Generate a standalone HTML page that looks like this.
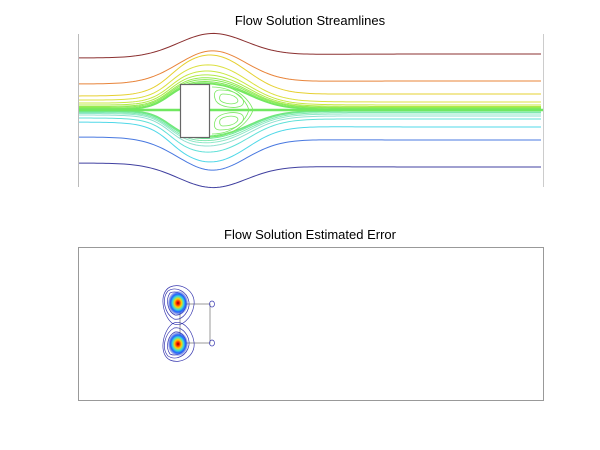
<!DOCTYPE html>
<html><head><meta charset="utf-8"><style>
body{margin:0;background:#fff;width:600px;height:450px;overflow:hidden;font-family:"Liberation Sans",Arial,sans-serif}
svg{position:absolute;left:0;top:0}
</style></head><body>
<svg id="s" width="600" height="450" viewBox="0 0 600 450" xmlns="http://www.w3.org/2000/svg">
<defs>
<radialGradient id="hot" cx="50%" cy="50%" r="50%">
<stop offset="0" stop-color="#800000"/><stop offset="0.15" stop-color="#ff2000"/><stop offset="0.35" stop-color="#ffd000"/><stop offset="0.55" stop-color="#40e0d0"/><stop offset="0.75" stop-color="#2060ff"/><stop offset="1" stop-color="#3040c0" stop-opacity="0.2"/>
</radialGradient>
</defs>
<text x="310" y="25" font-size="13" text-anchor="middle" fill="#000">Flow Solution Streamlines</text>
<text x="310" y="239" font-size="13" text-anchor="middle" fill="#000">Flow Solution Estimated Error</text>
<line x1="78.5" y1="34" x2="78.5" y2="187" stroke="#bbb"/>
<line x1="543.5" y1="34" x2="543.5" y2="187" stroke="#ccc"/>
<g id="lines" fill="none" stroke-width="1"></g>
<g fill="none" stroke="#7ae860" stroke-width="0.8">
<path d="M209,84 C235,84 250,100 253,110 C250,120 235,137 209,137"/>
<path d="M212,87 C234,87 246,100 249,110 C246,120 234,134 212,134"/>
<path d="M220,90 C240,90 248,102 241,106 C234,109 220,107 216,101 C213,95 214,90 220,90Z"/>
<path d="M223,94 C236,94 241,101 236,103 C231,105 222,103 220,100 C219,97 220,94 223,94Z"/>
<path d="M220,130 C240,130 248,118 241,114 C234,111 220,113 216,119 C213,125 214,130 220,130Z"/>
<path d="M223,126 C236,126 241,119 236,117 C231,115 222,117 220,120 C219,123 220,126 223,126Z"/>
</g>
<rect x="180.5" y="84.5" width="29" height="53" fill="#fff" stroke="#666" stroke-width="1.2"/>
<rect x="78.5" y="247.5" width="465" height="153" fill="#fff" stroke="#999"/>
<rect x="180" y="304" width="30" height="39" fill="none" stroke="#999" stroke-width="1"/>
<g fill="none" stroke="#3a3ab0" stroke-width="0.7">
<path d="M170,287 C158,293 163,316 172,323 C181,329 192,318 194,305 C196,291 181,282 170,287Z"/>
<path d="M168,291 C161,299 165,314 174,319 C183,321 190,310 189,302 C187,291 176,286 168,291Z"/>
<path d="M170,293 C165,300 168,312 175,315 C182,316 187,308 186,302 C184,294 176,290 170,293Z"/>
<path d="M170,360 C158,354 163,331 172,324 C181,318 192,329 194,342 C196,356 181,365 170,360Z"/>
<path d="M168,356 C161,348 165,333 174,328 C183,326 190,337 189,345 C187,356 176,361 168,356Z"/>
<path d="M170,354 C165,347 168,335 175,332 C182,331 187,339 186,345 C184,353 176,357 170,354Z"/>
<ellipse cx="212" cy="304" rx="2.5" ry="3"/><ellipse cx="212" cy="343" rx="2.5" ry="3"/>
</g>
<ellipse cx="178" cy="303" rx="10" ry="12" fill="url(#hot)"/>
<ellipse cx="178" cy="344" rx="10" ry="12" fill="url(#hot)"/>
</svg>
<script>
var ds=[[-52,-56,"#8b3030"],[-26,-29,"#e8843a"],[-14,-16,"#e6d030"],[-10,-8,"#dce040"],[-7,-5,"#c8e840"],[-5,-3.5,"#b0ea48"],[-3.5,-2.5,"#98ec50"],[-2.5,-1.8,"#88ea58"],[-1.5,-1,"#80e858"],[-0.8,-0.5,"#78e860"],[-0.3,-0.2,"#70e860"],[0.3,0.2,"#70e870"],[0.8,0.6,"#70e880"],[1.5,1.2,"#70e898"],[2.5,2.5,"#80e8b0"],[3.5,4,"#90e8c8"],[5,6,"#90e0d0"],[8,9,"#60e0d8"],[12,17,"#50d8e8"],[27,30,"#4878e0"],[53,57,"#4040a0"]];
var g=document.getElementById("lines"),h="";
function sig(x){return 1/(1+Math.exp(-(x-230)/40));}
function plat(x){var a=1/(1+Math.exp(-(x-170)/10)),b=1/(1+Math.exp((x-250)/16));return a*b;}
function gau(x){return Math.exp(-Math.pow((x-212)/48,2));}
ds.forEach(function(p){var d=p[0],s=d<0?-1:1,a=Math.abs(d),ar=Math.abs(p[1]),pts=[];
var w=Math.min(1,a/25);
for(var x=79;x<=543;x+=3){
var sh=(1-w)*plat(x)+w*gau(x);
var add=(a<20?(28+a*1.0):(a<30?32:23));
var t=sig(x);
var off=a+(ar-a)*t+add*sh;
pts.push(x+","+(110+s*off).toFixed(2));}
h+='<polyline points="'+pts.join(" ")+'" stroke="'+p[2]+'"/>';});
h+='<line x1="79" y1="110" x2="543" y2="110" stroke="#70e860" stroke-width="2.5"/>';
g.innerHTML=h;
</script>
</body></html>
